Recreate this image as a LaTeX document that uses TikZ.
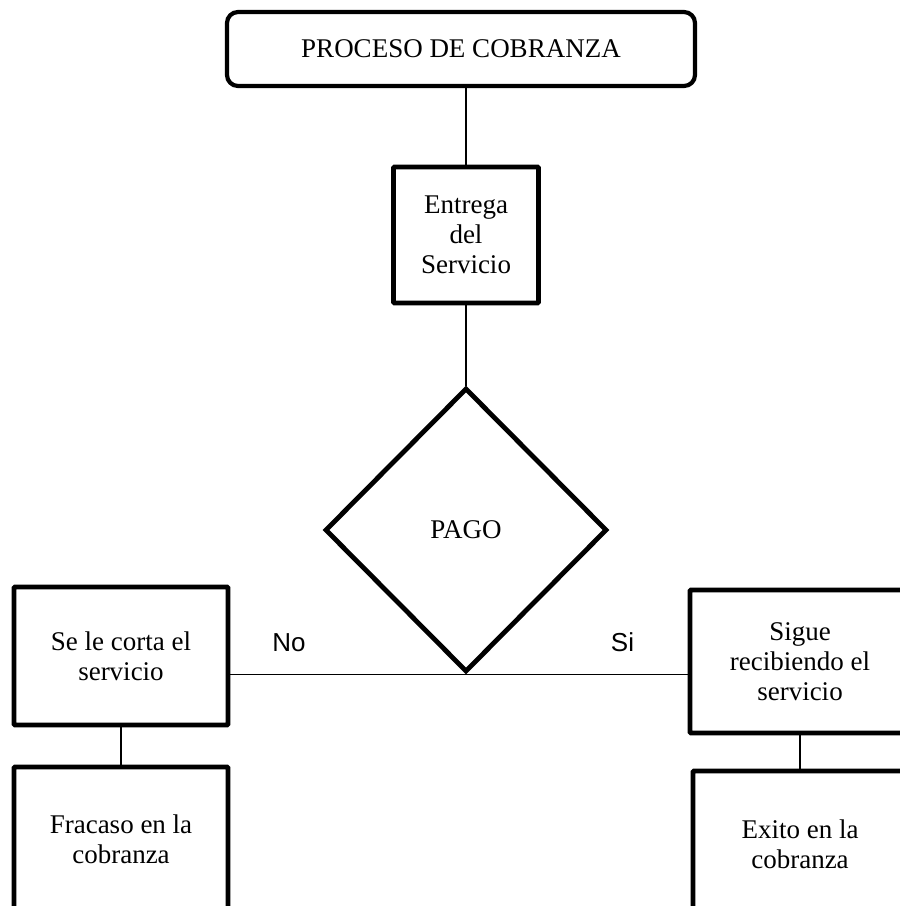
\documentclass[tikz,border=0pt]{standalone}
\usepackage{fontspec}
\setmainfont{Liberation Serif}
\newfontfamily\labelfont{Liberation Sans}
\usetikzlibrary{shapes.geometric}

\begin{document}
\begin{tikzpicture}[x=1pt, y=-1pt,
    every node/.style={font=\fontsize{27}{30}\selectfont, align=center, inner sep=0pt},
    box/.style={draw, line width=4.8pt, rounded corners=1pt},
    link/.style={line width=1.6pt},
    answer/.style={font=\labelfont\fontsize{26}{30}\selectfont, anchor=base},
    ]
    \useasboundingbox (0,0) rectangle (900,906);
    \clip (0,0) rectangle (900,906);
    \node [box, rounded corners=11pt, line width=4.2pt, minimum width=468pt, minimum height=74pt] (title) at (461,49) {PROCESO DE COBRANZA};
    \node [box, minimum width=145pt, minimum height=136pt] (entrega) at (466,235) {Entrega\\del\\Servicio};
    \node [box, diamond, rounded corners=0pt, minimum width=282pt, minimum height=284pt] (pago) at (466,530) {PAGO};
    \node [box, minimum width=214pt, minimum height=138pt] (corta) at (121,656) {Se le corta el\\servicio};
    \node [box, minimum width=214pt, minimum height=144pt] (fracaso) at (121,839) {Fracaso en la\\cobranza};
    \node [box, minimum width=220pt, minimum height=143pt] (sigue) at (800,661.5) {Sigue\\recibiendo el\\servicio};
    \node [box, minimum width=214pt, minimum height=146pt] (exito) at (800,844) {Exito en la\\cobranza};
    \draw [link] (entrega.north) -- (entrega.north |- title.south);
    \draw [link] (entrega.south) -- (pago.north);
    \draw [link] (pago.south) -- (corta.east |- pago.south);
    \draw [link] (pago.south) -- (sigue.west |- pago.south);
    \draw [link] (corta.south) -- (fracaso.north);
    \draw [link] (sigue.south) -- (exito.north);
    \node [answer] (no) at (289,651) {No};
    \node [answer] (si) at (622.5,651) {Si};
\end{tikzpicture}
\end{document}
